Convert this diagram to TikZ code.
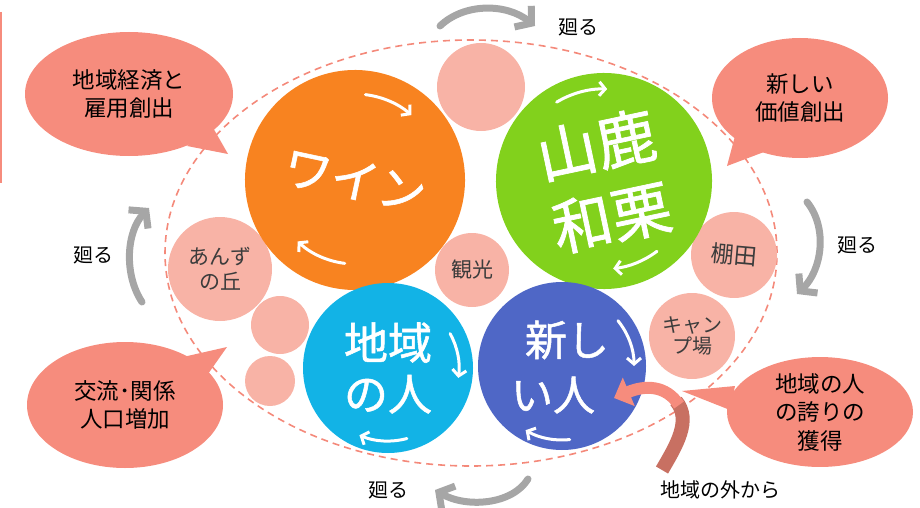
\documentclass[tikz,border=0pt]{standalone}
\usepackage{fontspec}
\setmainfont{Noto Sans CJK JP}
\newfontfamily\bigfont[FakeBold=1.2]{Noto Sans CJK JP}
\usetikzlibrary{arrows.meta,calc,shapes.geometric}
\definecolor{cOrange}{HTML}{F88320}
\definecolor{cGreen}{HTML}{82D11C}
\definecolor{cCyan}{HTML}{12B3E6}
\definecolor{cIndigo}{HTML}{4F67C6}
\definecolor{cPink}{HTML}{F8B3A6}
\definecolor{cCall}{HTML}{F68C7D}
\definecolor{cDash}{HTML}{F4897A}
\definecolor{cGray}{HTML}{A6A6A6}
\definecolor{cDark}{HTML}{C87062}
\definecolor{cTxt}{HTML}{3C3C3C}
\begin{document}
\begin{tikzpicture}[x=1pt,y=-1pt,
  bigc/.style={circle,inner sep=0pt,text=white,align=center},
  pinkc/.style={circle,inner sep=0pt,fill=cPink,text=cTxt,align=center,font=\fontsize{21}{25}\selectfont},
  callout/.style={ellipse,inner sep=0pt,fill=cCall,text=black,align=center,font=\fontsize{22.5}{28.5}\selectfont},
  warrow/.style={draw=white,line width=3pt,line cap=round,-{Straight Barb[length=6pt,width=14pt]}},
  garrow/.style={draw=cGray,line width=7pt,line cap=round,-{Straight Barb[length=11pt,width=27pt]}},
  glabel/.style={text=black,font=\fontsize{20}{24}\selectfont,inner sep=0pt}]
\useasboundingbox (0,0) rectangle (920,508);
% left bar
\draw[cCall,line width=2pt] (1,12) -- (1,183);
% dashed ellipse
\draw[cDash,line width=1.6pt,dash pattern=on 7pt off 5pt] (471,253) ellipse [x radius=306pt, y radius=213pt];
% small pink circles
\node[pinkc,minimum size=88pt] (topc) at (481,87) {};
\node[pinkc,minimum size=74pt] (kanko) at (472,270) {観光};
\node[pinkc,minimum size=86pt,rotate=-5,font=\fontsize{23}{26}\selectfont] (tanada) at (734,255) {棚田};
\node[pinkc,minimum size=86pt,font=\fontsize{20}{21}\selectfont] (camp) at (692,336) {キャン\\プ場};
\node[pinkc,minimum size=104pt,font=\fontsize{21}{25}\selectfont] (anzu) at (220,269) {あんず\\の丘};
\node[pinkc,minimum size=58pt] (s1) at (280,325) {};
\node[pinkc,minimum size=50pt] (s2) at (270,381) {};
% big circles
\node[bigc,fill=cOrange,minimum size=220pt,rotate=-12,font=\bigfont\fontsize{48}{50}\selectfont] (wine) at (355,180) {ワイン};
\node[bigc,fill=cGreen,minimum size=216pt,rotate=12,font=\bigfont\fontsize{60}{74}\selectfont] (yamaga) at (604,181) {山鹿\\和栗};
\node[bigc,fill=cCyan,minimum size=170pt,font=\bigfont\fontsize{44}{51}\selectfont] (local) at (388,368) {地域\\の人};
\node[bigc,fill=cIndigo,minimum size=168pt] (newp) at (562,366) {};
\node[text=white,inner sep=0pt,font=\bigfont\fontsize{42}{44}\selectfont] (newt1) at (567,340) {新し};
\node[text=white,inner sep=0pt,font=\bigfont\fontsize{42}{44}\selectfont] (newt2) at (553,395) {い人};
% white cycle arrows
\draw[warrow] ($(wine)+(83:86pt)$) arc[start angle=83,end angle=49,radius=86pt];
\draw[warrow] ($(wine)+(263:84pt)$) arc[start angle=263,end angle=227,radius=84pt];
\draw[warrow] ($(yamaga)+(121:92pt)$) arc[start angle=121,end angle=88,radius=92pt];
\draw[warrow] ($(yamaga)+(-53:88pt)$) arc[start angle=-53,end angle=-84,radius=88pt];
\draw[warrow] ($(local)+(29:71pt)$) arc[start angle=29,end angle=-8,radius=71pt];
\draw[warrow] ($(local)+(-75:73pt)$) arc[start angle=-75,end angle=-113,radius=73pt];
\draw[warrow] ($(newp)+(39:72pt)$) arc[start angle=39,end angle=0,radius=72pt];
\draw[warrow] ($(newp)+(-84:74pt)$) arc[start angle=-84,end angle=-120,radius=73pt];
% callouts
\node[callout,minimum width=208pt,minimum height=124pt] (c1) at (129,94) {地域経済と\\雇用創出};
\fill[cCall] (187,146) -- (228,154) -- (212,126) -- cycle;
\node[callout,minimum width=176pt,minimum height=120pt] (c2) at (800,98) {新しい\\価値創出};
\fill[cCall] (735,136) -- (727,166) -- (764,152) -- cycle;
\node[callout,minimum width=196pt,minimum height=126pt] (c3) at (125,405) {交流･関係\\人口増加};
\fill[cCall] (183,357) -- (227,347) -- (208,374) -- cycle;
\node[callout,minimum width=186pt,minimum height=106pt] (c4) at (820,412) {地域の人\\の誇りの\\獲得};
\fill[cCall] (735,386) -- (682,391) -- (730,410) -- cycle;
% gray cycle arrows and labels
\draw[garrow] (440,26) .. controls (464,3) and (506,3) .. (535,26);
\node[glabel] (l1) at (578,27) {廻る};
\draw[garrow] (807,202) .. controls (828,228) and (822,270) .. (797,294);
\node[glabel] (l2) at (857,245) {廻る};
\draw[garrow] (528,479) .. controls (512,505) and (466,508) .. (435,490);
\node[glabel] (l3) at (388,490) {廻る};
\draw[garrow] (142,302) .. controls (124,275) and (126,232) .. (149,208);
\node[glabel] (l4) at (93,255) {廻る};
% ribbon arrow from outside
\draw[cDark,line width=14pt] (662,470) .. controls (676,446) and (692,420) .. (676,401);
\draw[cCall,line width=12pt,-{Triangle[length=16pt,width=30pt]}] (679,405) .. controls (666,385) and (645,385) .. (614,398);
\node[glabel] (outside) at (720,490) {地域の外から};
\end{tikzpicture}
\end{document}
